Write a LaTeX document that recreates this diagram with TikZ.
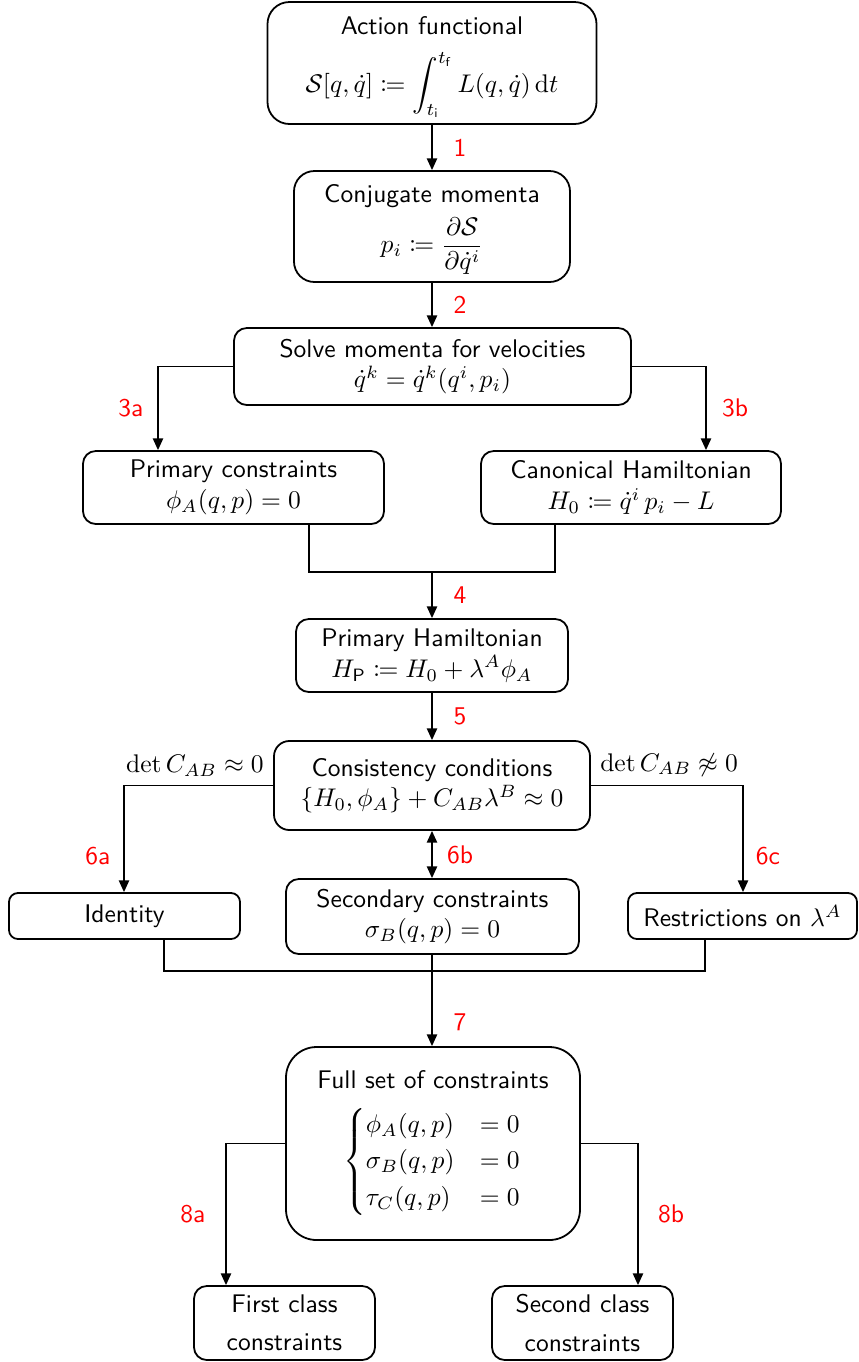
\documentclass[tikz,border=0pt]{standalone}
\usepackage{amsmath,amssymb,mathtools}
\usetikzlibrary{arrows.meta}
\begin{document}
\begin{tikzpicture}[x=0.392pt,y=-0.392pt,
  box/.style={draw, line width=0.7pt, align=center, inner sep=0pt, font=\sffamily},
  sz/.style 2 args={minimum width=#1*0.392pt, minimum height=#2*0.392pt},
  lab/.style={text=red, font=\sffamily, inner sep=0pt, anchor=center},
  ln/.style={line width=0.7pt},
  arr/.style={line width=0.7pt, -{Triangle[length=4.6pt,width=4pt]}},
  darr/.style={line width=0.7pt, {Triangle[length=4.6pt,width=4pt]}-{Triangle[length=4.6pt,width=4pt]}}
]
\useasboundingbox (0,0) rectangle (858,1362);

\node[box, sz={329}{122}, rounded corners=8.6pt] (act) at (432,63)
  {\rule{0pt}{10.5pt}Action functional\\[5.9pt] $\mathcal{S}[q,\dot q] \coloneqq \displaystyle\int_{t_\mathsf{i}}^{t_\mathsf{f}} L(q,\dot q)\,\mathrm{d}t$};
\node[box, sz={276}{111}, rounded corners=8pt] (conj) at (432,226.5)
  {\rule{0pt}{9.7pt}Conjugate momenta\\[2.7pt] $p_i \coloneqq \dfrac{\partial\mathcal{S}}{\partial\dot q^i}$};
\node[box, sz={397}{77}, rounded corners=5pt] (solve) at (432.5,366.5)
  {Solve momenta for velocities\\ $\dot q^k = \dot q^k(q^i,p_i)$};
\node[box, sz={301}{73}, rounded corners=5pt] (prim) at (233.5,487.5)
  {Primary constraints\\ $\phi_A(q,p)=0$};
\node[box, sz={300}{73}, rounded corners=5pt] (canon) at (631,487.5)
  {Canonical Hamiltonian\\ $H_0 \coloneqq \dot q^i\,p_i - L$};
\node[box, sz={272}{73}, rounded corners=5pt] (pham) at (432,655.5)
  {Primary Hamiltonian\\ $H_\mathsf{P} \coloneqq H_0 + \lambda^A\phi_A$};
\node[box, sz={316}{89}, rounded corners=6pt] (cons) at (432,785.5)
  {Consistency conditions\\ $\{H_0,\phi_A\} + C_{AB}\lambda^B \approx 0$};
\node[box, sz={231}{46}, rounded corners=3.5pt] (ident) at (124.5,916) {Identity};
\node[box, sz={293}{75}, rounded corners=5pt] (sec) at (432.5,916.5)
  {Secondary constraints\\ $\sigma_B(q,p)=0$};
\node[box, sz={229}{46}, rounded corners=3.5pt] (rest) at (742.5,916) {Restrictions on $\lambda^A$};
\node[box, sz={294}{193}, rounded corners=12pt] (full) at (433,1143.5)
  {Full set of constraints\\[6pt]
   $\begin{cases}\phi_A(q,p) & = 0\\ \sigma_B(q,p) & = 0\\ \tau_C(q,p) & = 0\end{cases}$};
\node[box, sz={181}{74}, rounded corners=5pt] (first) at (284.5,1323)
  {First class\\[3pt] constraints};
\node[box, sz={181}{74}, rounded corners=5pt] (second) at (582.5,1323)
  {Second class\\[3pt] constraints};

% coordinates
\coordinate (c3a) at (158,366.5);
\coordinate (c3b) at (706,366.5);
\coordinate (l4) at (309,572);
\coordinate (r4) at (555,572);
\coordinate (j4) at (432,572);
\coordinate (c6a) at (124,785.5);
\coordinate (c6c) at (743,785.5);
\coordinate (l7) at (164,971);
\coordinate (r7) at (705,971);
\coordinate (c8a) at (226,1143.5);
\coordinate (c8b) at (638,1143.5);

\draw[arr] (act) -- node[lab, xshift=28*0.392pt] {1} (conj);
\draw[arr] (conj) -- node[lab, xshift=28*0.392pt] {2} (conj.south |- solve.north);

\draw[arr] (solve.west) -- (c3a) -- node[lab, xshift=-27*0.392pt] {3a} (c3a |- prim.north);
\draw[arr] (solve.east) -- (c3b) -- node[lab, xshift=29*0.392pt] {3b} (c3b |- canon.north);

\draw[ln] (l4 |- prim.south) -- (l4) -- (r4) -- (r4 |- canon.south);
\draw[arr] (j4) -- node[lab, xshift=28*0.392pt] {4} (pham.north);

\draw[arr] (pham) -- node[lab, xshift=28*0.392pt] {5} (cons);

\draw[arr] (cons.west) node[above left] {$\det C_{AB}\approx 0$} -- (c6a)
  -- node[lab, pos=0.66, xshift=-26*0.392pt] {6a} (c6a |- ident.north);
\draw[arr] (cons.east) node[above right] {$\det C_{AB}\not\approx 0$} -- (c6c)
  -- node[lab, pos=0.66, xshift=25*0.392pt] {6c} (c6c |- rest.north);
\draw[darr] (cons.south) -- node[lab, xshift=28*0.392pt] {6b} (cons.south |- sec.north);

\draw[ln] (l7 |- ident.south) -- (l7) -- (r7) -- (r7 |- rest.south);
\draw[arr] (cons.south |- sec.south) -- node[lab, pos=0.74, xshift=28*0.392pt] {7} (cons.south |- full.north);

\draw[arr] (full.west |- c8a) -- (c8a) -- node[lab, xshift=-33*0.392pt] {8a} (c8a |- first.north);
\draw[arr] (full.east |- c8b) -- (c8b) -- node[lab, xshift=33*0.392pt] {8b} (c8b |- second.north);
\end{tikzpicture}
\end{document}
